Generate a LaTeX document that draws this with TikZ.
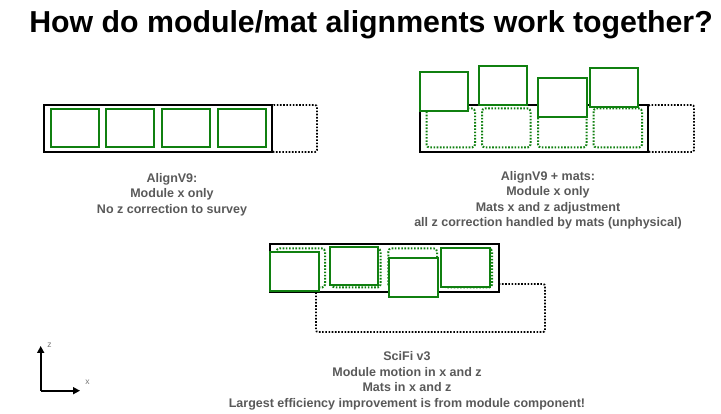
\documentclass[tikz,border=0pt]{standalone}
\usepackage{fontspec}
\setmainfont{Liberation Sans}
\usetikzlibrary{arrows.meta}

\begin{document}
\begin{tikzpicture}[x=1pt,y=-1pt,
    modbox/.style={draw=black,line width=2pt,fill=white},
    modnominal/.style={draw=black,line width=1.8pt,dash pattern=on 1.6pt off 1.6pt,rounded corners=2pt},
    matbox/.style={draw=r16g128b16,line width=2pt,fill=white},
    matnominal/.style={draw=r16g128b16,line width=2pt,dash pattern=on 1.6pt off 1.6pt,rounded corners=3pt},
    caption/.style={text=r89g89b89,font=\fontsize{12.5}{15.5}\selectfont\bfseries,align=center},
    axislabel/.style={text=r120g120b120,font=\fontsize{8.5}{8.5}\selectfont}]
                    \useasboundingbox (0,0) rectangle (721,414);

                    % Changing color 16 128 16
                    \definecolor{r16g128b16}{RGB}{16,128,16}%
                    % Changing color 89 89 89
                    \definecolor{r89g89b89}{RGB}{89,89,89}%
                    % Changing color 120 120 120
                    \definecolor{r120g120b120}{RGB}{120,120,120}%

                    % Title
                    \node[anchor=base,font=\fontsize{30.3}{30}\selectfont\bfseries] (title) at (371,33) {How do module/mat alignments work together?};

                    % Panel AlignV9: module nominal position, module, mats
                    \draw[modnominal] (272,105) rectangle (317,152);%
                    \draw[modbox] (44,105) rectangle (272,152);%
                    \draw[matbox] (50.7,108.7) rectangle (98.7,147.3);%
                    \draw[matbox] (106.3,108.7) rectangle (154.3,147.3);%
                    \draw[matbox] (162.3,108.7) rectangle (210.3,147.3);%
                    \draw[matbox] (217.7,108.7) rectangle (265.7,147.3);%
                    \node[caption] (capa) at (172,194.5) {AlignV9:\\Module x only\\No z correction to survey};

                    % Panel AlignV9 + mats: mats moved in x and z
                    \draw[modnominal] (648,105) rectangle (694,152);%
                    \draw[modbox] (420,105) rectangle (648,152);%
                    \draw[matnominal] (426.5,108.5) rectangle (475,147.5);%
                    \draw[matnominal] (482,108.5) rectangle (530.5,147.5);%
                    \draw[matnominal] (538,108.5) rectangle (586.5,147.5);%
                    \draw[matnominal] (593.5,108.5) rectangle (642,147.5);%
                    \draw[matbox] (420,72.5) rectangle (468,111.5);%
                    \draw[matbox] (479,66) rectangle (527,105);%
                    \draw[matbox] (538.3,78.5) rectangle (586.5,117.5);%
                    \draw[matbox] (590,68) rectangle (638.3,107.5);%
                    \node[caption] (capb) at (548,200.5) {AlignV9 + mats:\\Module x only\\Mats x and z adjustment\\all z correction handled by mats (unphysical)};

                    % Panel SciFi v3: module and mats moved in x and z
                    \draw[modnominal] (316,284) rectangle (545,332);%
                    \draw[modbox] (270,244) rectangle (499,292);%
                    \draw[matnominal] (276.5,248.5) rectangle (325,287.5);%
                    \draw[matnominal] (332,248.5) rectangle (380.5,287.5);%
                    \draw[matnominal] (388.3,248.5) rectangle (437,287.5);%
                    \draw[matnominal] (443.5,248.5) rectangle (492,287.5);%
                    \draw[matbox] (270,252.5) rectangle (318.5,291.5);%
                    \draw[matbox] (330,247) rectangle (377.5,285);%
                    \draw[matbox] (389,258.5) rectangle (437.5,297.5);%
                    \draw[matbox] (441,248.5) rectangle (489.5,287.5);%
                    \node[caption] (capc) at (407,381) {SciFi v3\\Module motion in x and z\\Mats in x and z\\Largest efficiency improvement is from module component!};

                    % Axes
                    \coordinate (orig) at (40.7,390.7);
                    \coordinate (zend) at (40.7,346);
                    \coordinate (xend) at (80,390.7);
                    \draw[line width=1.6pt,-{Triangle[length=7pt,width=7pt]}] (orig) -- (zend);%
                    \draw[line width=1.6pt,-{Triangle[length=7pt,width=7pt]}] (orig) -- (xend);%
                    \node[axislabel] (zlab) at (49.5,345) {z};
                    \node[axislabel] (xlab) at (87.5,382) {x};
                    \end{tikzpicture}
\end{document}
